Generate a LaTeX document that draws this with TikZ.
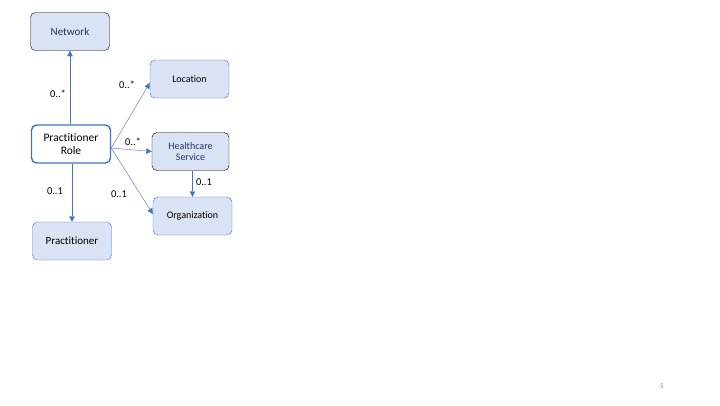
\documentclass[tikz,border=0pt]{standalone}
\usepackage{fontspec}
\setmainfont{Carlito}[Ligatures=NoCommon]
\usetikzlibrary{arrows.meta,calc,positioning}
\definecolor{boxfill}{HTML}{DAE3F3}
\definecolor{boxblue}{HTML}{4472C4}
\definecolor{navytext}{HTML}{1F3864}
\tikzset{link/.style={draw=boxblue,-{Triangle[width=5.5pt,length=5.5pt]}}}

\begin{document}
\begin{tikzpicture}[x=1pt,y=-1pt]

\tikzset{bluebox/.style={fill=boxfill,draw=boxblue,rounded corners=5pt,minimum width=79pt,minimum height=38pt,inner sep=1pt,align=center,font=\fontsize{10}{11.5}\selectfont},
blackbox/.style={bluebox,draw=black,text=navytext},
rolebox/.style={bluebox,fill=white,line width=1.4pt,font=\fontsize{11.5}{13.5}\selectfont},
card/.style={font=\fontsize{10.5}{12}\selectfont}}

% Frame
\useasboundingbox (0,0) rectangle (720,405);

% Boxes
\node[blackbox,font=\fontsize{11}{13}\selectfont] (network) at (70,31.5) {Network};
\node[rolebox] (role) at (71,144) {Practitioner\\Role};
\node[bluebox,font=\fontsize{11}{13}\selectfont] (practitioner) at (72,241) {Practitioner};
\node[bluebox] (location) at (189.5,79) {Location};
\node[blackbox,minimum width=77pt] (service) at (190.5,151.5) {Healthcare\\Service};
\node[bluebox] (organization) at (192.5,216) {Organization};

% Links
\draw[link] (role.north -| network) -- (network.south);
\draw[link] (role.south -| practitioner) -- (practitioner.north);
\draw[link] ($(role.east)+(0,4)$) -- ($(location.west)+(0,4)$);
\draw[link] ($(role.east)+(0,4)$) -- (service.west);
\draw[link] ($(role.east)+(0,4)$) -- ($(organization.west)+(0,-2)$);
\draw[link] (service.south -| organization) -- (organization.north);

% Cardinalities
\node[card] (cnet) at (58,94) {0..*};
\node[card] (cprac) at (55,191) {0..1};
\node[card] (cloc) at (127,85) {0..*};
\node[card] (cserv) at (133,142) {0..*};
\node[card] (corg) at (119,194) {0..1};
\node[card] (chs) at (204,182) {0..1};

% Page number
\node[text=gray,font=\fontsize{7}{8}\selectfont] (page) at (662,386) {5};

\end{tikzpicture}
\end{document}
